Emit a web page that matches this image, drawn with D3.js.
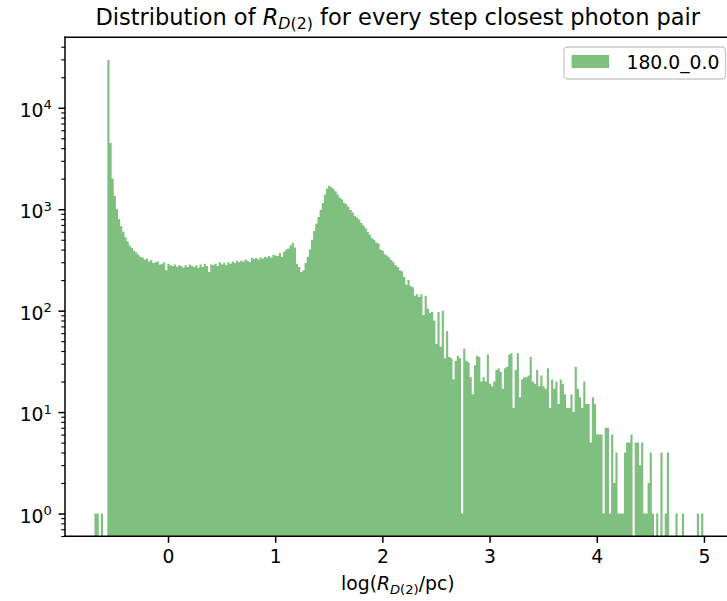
<!DOCTYPE html>
<html><head><meta charset="utf-8">
<script src="https://cdn.jsdelivr.net/npm/d3@7/dist/d3.min.js"></script>
<style>
html,body{margin:0;padding:0;background:#fff;}
svg{display:block;font-family:"DejaVu Sans",sans-serif;}
</style>
</head><body>
<svg id="chart" width="727" height="601"></svg>
<script>
// ---------------- data ----------------
const binStart = -0.686;      // left edge of first bin, log(R/pc)
const binWidth = 0.02;        // bin width, log(R/pc)
const counts = [
1,1,0,1,0,0,29600,4500,2000,1350,
1000,800,680,600,530,480,440,415,390,375,
355,340,335,320,325,305,315,295,300,305,
285,290,300,250,290,280,275,285,270,280,
275,265,280,270,285,275,270,280,265,285,
270,290,275,240,285,280,290,275,300,285,
295,280,300,290,305,295,310,300,310,305,
320,310,300,330,325,330,320,335,325,340,
335,345,335,355,350,345,370,340,380,400,
410,440,465,420,290,270,240,250,295,340,
400,500,610,720,840,980,1150,1400,1600,1700,
1650,1580,1500,1400,1300,1250,1150,1120,1050,980,
930,860,830,790,730,690,650,600,560,520,
500,470,460,400,390,360,350,335,315,300,
280,270,250,245,215,180,200,175,170,140,
145,136,145,90,140,105,95,97,80,47,
97,44,100,34,63,35,34,21,32,36,
34,1,42,32,31,22,15,29,36,35,
20,22,20,37,19,18,20,26,27,25,
17,27,28,37,38,11,26,38,14,21,
22,22,23,35,20,19,26,18,23,18,
17,27,11,21,17,20,12,21,19,15,
11,11,15,10,28,17,14,11,20,12,
12,5,14,12,6,6,6,1,7,7,
1,6,2,4,1,1,1,4,5,5,
6,0,5,5,3,5,1,1,2,4,
1,0,1,0,4,0,1,4,0,0,
0,1,0,0,1,0,0,0,0,0,
0,1,0,1
];
const xLimits = [-0.961, 5.286];
const xTickValues = [0, 1, 2, 3, 4, 5];
const yTickExponents = [0, 1, 2, 3, 4];
const seriesName = "180.0_0.0";
const titleParts = {before: "Distribution of ", sym: "R", sub: "D", subRest: "(2)", after: " for every step closest photon pair"};
const xLabelParts = {before: "log(", sym: "R", sub: "D", subRest: "(2)", after: "/pc)"};

// ---------------- layout ----------------
const svg = d3.select("#chart");
const L = 65, R = 734.6, T = 37.3, B = 536.2;
const fs = 18.75, fsTitle = 22.5;
const barColor = "green";

const x = d3.scaleLinear().domain(xLimits).range([L, R]);
// log-space 5% margins like matplotlib autoscale
const pos = counts.filter(c => c > 0);
const lo = Math.log10(d3.min(pos)), hi = Math.log10(d3.max(pos));
const m = (hi - lo) * 0.05;
const y = d3.scaleLog().domain([Math.pow(10, lo - m), Math.pow(10, hi + m)]).range([B, T]);

const bins = counts.map((c, i) => ({x0: binStart + i * binWidth, x1: binStart + (i + 1) * binWidth, c}));

svg.append("defs").append("clipPath").attr("id", "clip")
  .append("rect").attr("x", L).attr("y", T).attr("width", R - L).attr("height", B - T);

// histogram as a step area (union of bars, no seams)
const stepData = bins.concat([{x0: bins[bins.length - 1].x1, c: 0}]);
const area = d3.area()
  .curve(d3.curveStepAfter)
  .x(d => x(d.x0))
  .y0(B)
  .y1(d => d.c > 0 ? y(d.c) : B);
svg.append("path")
  .datum(stepData)
  .attr("clip-path", "url(#clip)")
  .attr("d", area)
  .attr("fill", barColor)
  .attr("fill-opacity", 0.5)
  .attr("stroke", "none");

// ---------------- axes ----------------
const axG = svg.append("g");
const spineW = 1.5;
// x ticks
const xAxis = d3.axisBottom(x).tickValues(xTickValues).tickFormat(d3.format("d"))
  .tickSize(6.56).tickPadding(6.56);
const gx = axG.append("g").attr("transform", `translate(0,${B})`).call(xAxis);
gx.select(".domain").remove();
gx.selectAll(".tick line").attr("stroke", "#000").attr("stroke-width", 1.5);
gx.selectAll(".tick text").attr("font-size", fs).attr("font-family", "DejaVu Sans").attr("fill", "#000")
  .attr("dy", null).attr("y", 27.3);

// y major ticks
const yMajor = yTickExponents.map(e => Math.pow(10, e));
const yAxis = d3.axisLeft(y).tickValues(yMajor).tickFormat("").tickSize(6.56);
const gy = axG.append("g").attr("transform", `translate(${L},0)`).call(yAxis);
gy.select(".domain").remove();
gy.selectAll(".tick line").attr("stroke", "#000").attr("stroke-width", 1.5);
gy.selectAll(".tick text").remove();
// y minor ticks
const dom = y.domain();
const minor = [];
for (let e = Math.floor(Math.log10(dom[0])); e <= Math.ceil(Math.log10(dom[1])); e++) {
  for (let k = 2; k <= 9; k++) {
    const v = k * Math.pow(10, e);
    if (v >= dom[0] && v <= dom[1]) minor.push(v);
  }
}
const yMinorAxis = d3.axisLeft(y).tickValues(minor).tickFormat("").tickSize(3.75);
const gym = axG.append("g").attr("transform", `translate(${L},0)`).call(yMinorAxis);
gym.select(".domain").remove();
gym.selectAll(".tick line").attr("stroke", "#000").attr("stroke-width", 1.125);

// y tick labels 10^n
yTickExponents.forEach(e => {
  const t = svg.append("text")
    .attr("x", L - 13.1).attr("y", y(Math.pow(10, e)) + 9.2)
    .attr("text-anchor", "end").attr("font-size", fs).attr("fill", "#000");
  t.append("tspan").text("10");
  t.append("tspan").attr("font-size", 13.1).attr("dy", -7.6).text(String(e));
});

// spines
svg.append("line").attr("x1", L).attr("x2", L).attr("y1", T).attr("y2", B)
  .attr("stroke", "#000").attr("stroke-width", spineW).attr("stroke-linecap", "square");
svg.append("line").attr("x1", L).attr("x2", R).attr("y1", B).attr("y2", B)
  .attr("stroke", "#000").attr("stroke-width", spineW).attr("stroke-linecap", "square");
svg.append("line").attr("x1", L).attr("x2", R).attr("y1", T).attr("y2", T)
  .attr("stroke", "#000").attr("stroke-width", spineW).attr("stroke-linecap", "square");
svg.append("line").attr("x1", R).attr("x2", R).attr("y1", T).attr("y2", B)
  .attr("stroke", "#000").attr("stroke-width", spineW);

// ---------------- texts with math ----------------
function mathText(parent, parts, cx, cy, size) {
  const t = parent.append("text").attr("x", cx).attr("y", cy)
    .attr("text-anchor", "middle").attr("font-size", size).attr("fill", "#000");
  const subSize = size * 0.7, shift = size * 0.22;
  t.append("tspan").text(parts.before);
  t.append("tspan").attr("font-style", "italic").text(parts.sym);
  t.append("tspan").attr("font-style", "italic").attr("font-size", subSize).attr("dy", shift).text(parts.sub);
  t.append("tspan").attr("font-size", subSize).text(parts.subRest);
  t.append("tspan").attr("dy", -shift).text(parts.after);
  return t;
}
const cx = (L + R) / 2;
mathText(svg, titleParts, cx - 2, 24.5, fsTitle);
mathText(svg, xLabelParts, cx - 2, 589.5, fs);

// ---------------- legend ----------------
const lg = svg.append("g");
lg.append("rect").attr("x", 564).attr("y", 47).attr("width", 161.5).attr("height", 32)
  .attr("rx", 3.75).attr("ry", 3.75)
  .attr("fill", "#fff").attr("fill-opacity", 0.8)
  .attr("stroke", "#cccccc").attr("stroke-width", 1.4);
lg.append("rect").attr("x", 571.6).attr("y", 55).attr("width", 37.5).attr("height", 13.1)
  .attr("fill", barColor).attr("fill-opacity", 0.5);
lg.append("text").attr("x", 626.5).attr("y", 68.6).attr("font-size", fs).attr("fill", "#000").text(seriesName);
</script>
</body></html>
